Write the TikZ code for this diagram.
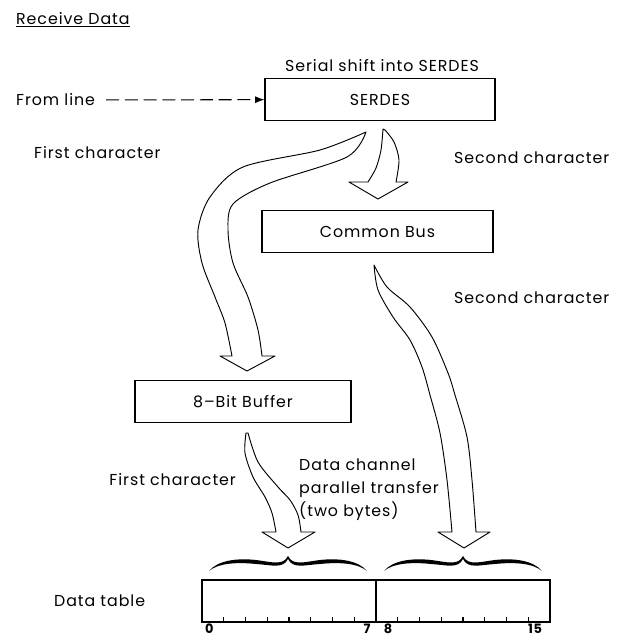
\documentclass[tikz,border=0pt]{standalone}
\usepackage{fontspec}
\setmainfont[LetterSpace=6]{Poppins}
\usetikzlibrary{arrows.meta, positioning, calc}

\begin{document}
\begin{tikzpicture}[
  x=0.03cm, y=-0.03cm,
  font=\fontsize{13.5}{16}\selectfont,
  unitbox/.style={draw=black, line width=0.9pt, minimum height=1.26cm, inner sep=0pt},
  bytebox/.style={draw=black, line width=0.9pt, minimum width=5.22cm, minimum height=1.26cm, inner sep=0pt},
  bigarrow/.style={draw=black, fill=white, line width=0.8pt, line join=round},
  feed/.style={draw=black, line width=0.9pt, dash pattern=on 11pt off 5pt, -{Latex[length=8pt,width=6pt]}},
  bitnum/.style={font=\fontsize{11}{12}\selectfont\bfseries, inner sep=1pt}
]
\useasboundingbox (0,0) rectangle (623,639);

% units
\node[unitbox, minimum width=6.9cm]  (serdes) at (380,99.5)  {SERDES};
\node[unitbox, minimum width=6.93cm] (bus)    at (377.5,231.5) {Common Bus};
\node[unitbox, minimum width=6.48cm] (buffer) at (243,401.5) {8--Bit Buffer};

% data table
\node[bytebox] (lowbyte)  at (289,601) {};
\node[bytebox] (highbyte) at (463,601) {};
\foreach \k in {1,...,7} {
  \draw[line width=0.9pt] ($(lowbyte.south west)!\k/8!(lowbyte.south east)$) -- ++(0,-6);
  \draw[line width=0.9pt] ($(highbyte.south west)!\k/8!(highbyte.south east)$) -- ++(0,-6);
}
\node[bitnum, anchor=north west] (b0)  at ([xshift=2pt]lowbyte.south west)  {0};
\node[bitnum, anchor=north east] (b7)  at ([xshift=-4pt]lowbyte.south east)  {7};
\node[bitnum, anchor=north west] (b8)  at ([xshift=6pt]highbyte.south west) {8};
\node[bitnum, anchor=north east] (b15) at ([xshift=-6pt]highbyte.south east) {15};

% labels
\node[anchor=west] (title) at (12,20) {\underline{Receive Data}};
\node (shiftlbl) at (382,66) {Serial shift into SERDES};
\node[anchor=west] (fromline) at (12,100) {From line};
\node[anchor=west] (first1)  at (30,153) {First character};
\node[anchor=west] (second1) at (450,158) {Second character};
\node[anchor=west] (second2) at (450,298) {Second character};
\node[anchor=east] (first2)  at (240,480) {First character};
\node[anchor=west, align=left, inner sep=0pt, font=\fontsize{13.5}{19.5}\selectfont]
  (transfer) at (299,490) {Data channel\\parallel transfer\\(two bytes)};
\node[anchor=west] (tablelbl) at (50,601) {Data table};

\draw[feed, shorten <=6pt] (fromline) -- (serdes);

% first character: SERDES -> 8-bit buffer
\draw[bigarrow] (366,132) -- plot[smooth] coordinates {(366,132) (320,150) (243,167) (210,197) (198,230) (202,263) (215,297) (225,323) (232,356)}
  -- (220,356) -- (247,371) -- (275,356) -- (262,356)
  -- plot[smooth] coordinates {(262,356) (258,330) (248,297) (233,263) (228,230) (233,204) (270,183) (347,157) (366,132)} -- cycle;

% second character: SERDES -> common bus
\draw[bigarrow] (383,129) -- plot[smooth] coordinates {(383,129) (381,150) (376,168) (368,182)}
  -- (349,182) -- (378,199) -- (408,182) -- (396,182)
  -- plot[smooth] coordinates {(396,182) (399,160) (394,142) (385,130)} -- cycle;

% first character: buffer -> low byte
\draw[bigarrow] (246,433) -- plot[smooth] coordinates {(246,433) (245,453) (253,477) (265,497) (272,513) (276,532)}
  -- (262,532) -- (288,548) -- (315,532) -- (301,532)
  -- plot[smooth] coordinates {(301,532) (298,515) (290,500) (278,487) (258,462) (248,433)} -- cycle;

% second character: common bus -> high byte
\draw[bigarrow] (374,265) -- plot[smooth] coordinates {(374,265) (378,290) (393,317) (410,340) (422,367) (430,395) (440,433) (447,480) (452,532)}
  -- (438,532) -- (464,548) -- (490,532) -- (476,532)
  -- plot[smooth] coordinates {(476,532) (472,480) (467,437) (455,395) (448,373) (432,337) (410,307) (387,287) (374,265)} -- cycle;

% braces
\foreach \cx in {288,463} {
  \begin{scope}[shift={(\cx,556)}]
    \fill (-79,15) .. controls (-70,4) and (-50,2) .. (-32,4) .. controls (-16,6) and (-5,10) .. (0,0)
      .. controls (5,10) and (16,6) .. (32,4) .. controls (50,2) and (70,4) .. (79,15)
      .. controls (70,7) and (50,6) .. (32,8) .. controls (16,9) and (5,13) .. (0,3)
      .. controls (-5,13) and (-16,9) .. (-32,8) .. controls (-50,6) and (-70,7) .. (-79,15) -- cycle;
  \end{scope}
}

\end{tikzpicture}
\end{document}
